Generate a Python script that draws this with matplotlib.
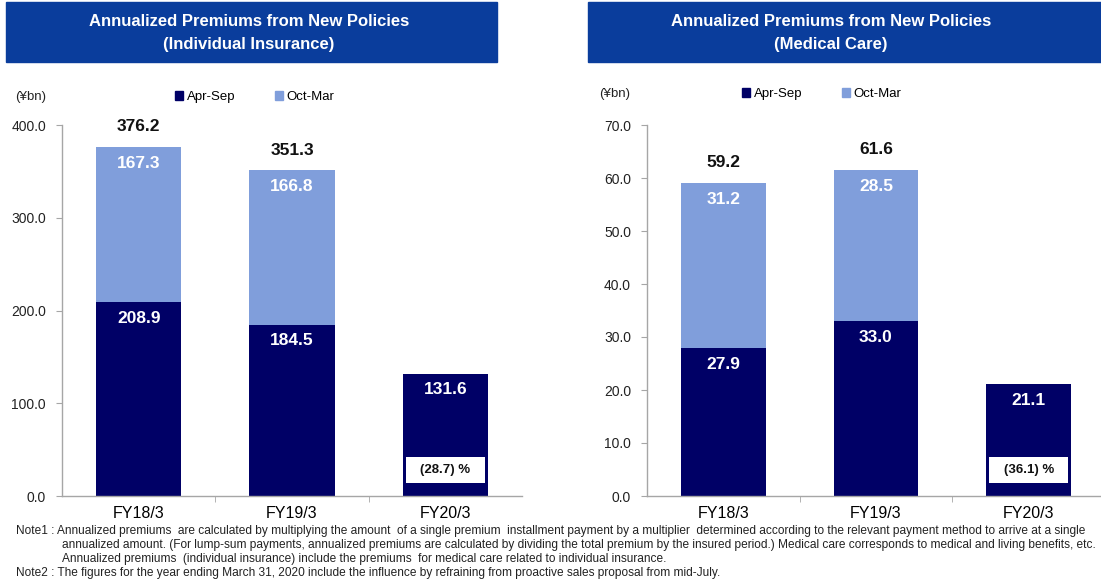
import numpy as np
import matplotlib
matplotlib.use('Agg')
import matplotlib.pyplot as plt
import matplotlib.transforms as mtransforms
from matplotlib.patches import Rectangle, Patch
from matplotlib.ticker import FormatStrFormatter

plt.rcParams['font.family'] = ['Liberation Sans', 'DejaVu Sans']

W, H = 1101, 581  # output size in pixels

DARK = '#000066'
LIGHT = '#809EDB'
TITLE_BG = '#0A3D9C'
SPINE = '#A6A6A6'

categories = ['FY18/3', 'FY19/3', 'FY20/3']

# individual insurance (¥bn)
indiv_apr_sep = [208.9, 184.5, 131.6]
indiv_oct_mar = [167.3, 166.8, None]
indiv_total = [376.2, 351.3, None]
indiv_change = [None, None, -28.7]

# medical care (¥bn)
medical_apr_sep = [27.9, 33.0, 21.1]
medical_oct_mar = [31.2, 28.5, None]
medical_total = [59.2, 61.6, None]
medical_change = [None, None, -36.1]

notes = [
    (16, 531, 'Note1 : Annualized premiums  are calculated by multiplying the amount  of a single premium  installment payment by a multiplier  determined according to the relevant payment method to arrive at a single'),
    (62, 545, 'annualized amount. (For lump-sum payments, annualized premiums are calculated by dividing the total premium by the insured period.) Medical care corresponds to medical and living benefits, etc.'),
    (62, 559, 'Annualized premiums  (individual insurance) include the premiums  for medical care related to individual insurance.'),
    (16, 573, 'Note2 : The figures for the year ending March 31, 2020 include the influence by refraining from proactive sales proposal from mid-July.'),
]


def fig_rect(x0, y0, x1, y1):
    # pixel box with top-left origin -> figure fraction [left, bottom, width, height]
    return [x0 / W, 1 - y1 / H, (x1 - x0) / W, (y1 - y0) / H]


def draw_header(fig, x0, x1, xc, line1, line2):
    fig.patches.append(Rectangle((x0 / W, 1 - 62 / H), (x1 - x0) / W, 60 / H,
                                 transform=fig.transFigure, color=TITLE_BG, zorder=0))
    for txt, y in ((line1, 21), (line2, 45)):
        fig.text(xc / W, 1 - y / H, txt, ha='center', va='center', color='white',
                 fontsize=12, fontweight='bold')


def draw_panel(ax, apr, octm, total, change, ymax, ystep):
    x = np.arange(len(categories))
    apr = np.array(apr, dtype=float)
    oct_h = np.array([0.0 if v is None else v for v in octm])
    ax.bar(x, apr, width=0.555, color=DARK, zorder=2)
    ax.bar(x, oct_h, bottom=apr, width=0.555, color=LIGHT, zorder=2)

    for i in range(len(x)):
        ax.annotate(f'{apr[i]:.1f}', (x[i], apr[i]), xytext=(0, -11.5),
                    textcoords='offset points', ha='center', va='center',
                    color='white', fontsize=12.5, fontweight='bold', zorder=3)
        if octm[i] is not None:
            ax.annotate(f'{octm[i]:.1f}', (x[i], apr[i] + octm[i]), xytext=(0, -12),
                        textcoords='offset points', ha='center', va='center',
                        color='white', fontsize=12.5, fontweight='bold', zorder=3)
        if total[i] is not None:
            ax.annotate(f'{total[i]:.1f}', (x[i], total[i]), xytext=(0, 14.5),
                        textcoords='offset points', ha='center', va='center',
                        color='#111111', fontsize=12.5, fontweight='bold', zorder=3)
        if change[i] is not None:
            trans = mtransforms.blended_transform_factory(ax.transData, ax.transAxes)
            ax.add_patch(Rectangle((x[i] - 0.258, 0.035), 0.516, 0.07, transform=trans,
                                   facecolor='white', edgecolor='none', zorder=3))
            ax.text(x[i], 0.07, f'({abs(change[i]):.1f}) %', transform=trans,
                    ha='center', va='center', fontsize=9.5, fontweight='bold',
                    color='#111111', zorder=4)

    ax.set_xlim(-0.5, 2.5)
    ax.set_ylim(0, ymax)
    ax.set_yticks(np.arange(0, ymax + ystep / 2, ystep))
    ax.yaxis.set_major_formatter(FormatStrFormatter('%.1f'))
    ax.set_xticks(x)
    ax.set_xticklabels(categories, fontsize=11.5)
    ax.set_xticks([0.5, 1.5], minor=True)
    ax.tick_params(axis='x', which='major', length=0, pad=7)
    ax.tick_params(axis='x', which='minor', length=4, color=SPINE)
    ax.tick_params(axis='y', length=4, color=SPINE, labelsize=10, pad=7.5,
                   labelcolor='#222222')
    for side in ('top', 'right'):
        ax.spines[side].set_visible(False)
    for side in ('left', 'bottom'):
        ax.spines[side].set_color(SPINE)
        ax.spines[side].set_linewidth(1.0)


fig = plt.figure(figsize=(W / 100, H / 100), dpi=100)

draw_header(fig, 6, 497, 249, 'Annualized Premiums from New Policies', '(Individual Insurance)')
draw_header(fig, 588, 1110, 831, 'Annualized Premiums from New Policies', '(Medical Care)')

ax1 = fig.add_axes(fig_rect(62, 125, 522, 496))
draw_panel(ax1, indiv_apr_sep, indiv_oct_mar, indiv_total, indiv_change, 400, 100)

ax2 = fig.add_axes(fig_rect(647, 125, 1105, 496))
draw_panel(ax2, medical_apr_sep, medical_oct_mar, medical_total, medical_change, 70, 10)

handles = [Patch(color=DARK, label='Apr-Sep'), Patch(color=LIGHT, label='Oct-Mar')]
for ux, lx, ly in ((15, 175, 97), (599, 742, 94)):
    fig.text(ux / W, 1 - ly / H, '(¥bn)', ha='left', va='center', fontsize=9.5, color='#222222')
    fig.legend(handles=handles, loc='center left', bbox_to_anchor=(lx / W, 1 - ly / H),
               ncol=2, frameon=False, fontsize=9.5, handlelength=0.6, handleheight=0.6,
               handletextpad=0.3, columnspacing=3.0, borderpad=0, borderaxespad=0)

for nx, ny, txt in notes:
    fig.text(nx / W, 1 - ny / H, txt, ha='left', va='center', fontsize=8.6, color='#222222')

fig.savefig('out.png', dpi=100)
